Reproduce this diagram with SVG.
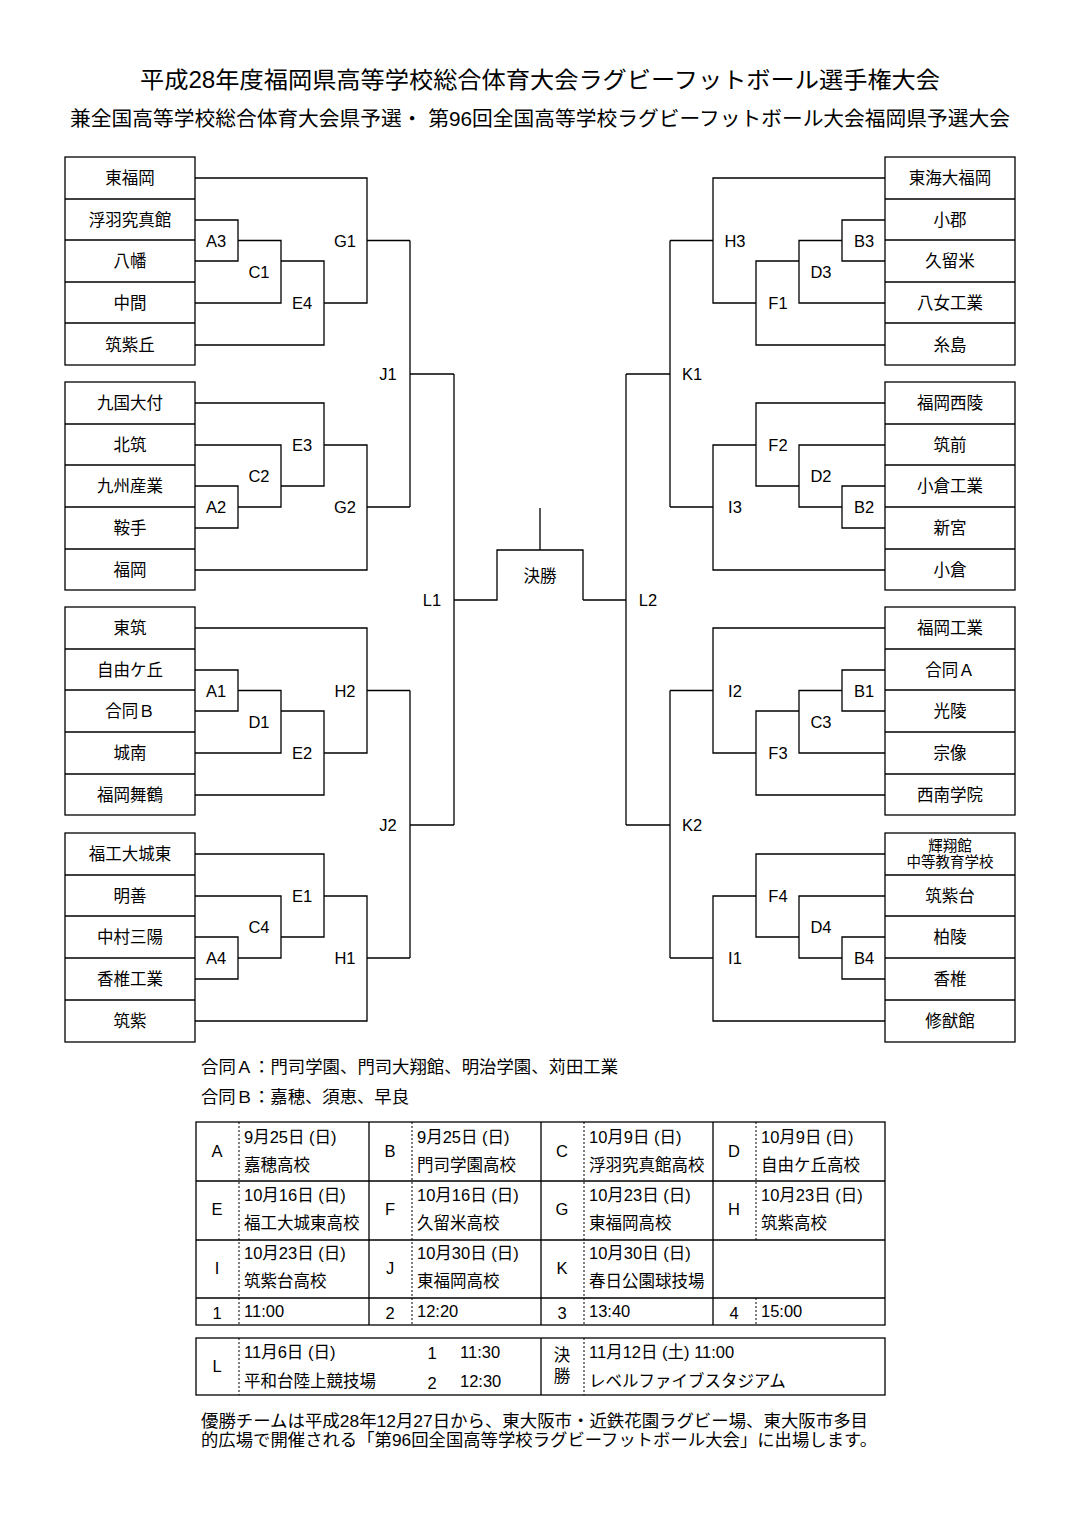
<svg xmlns="http://www.w3.org/2000/svg" width="1080" height="1528" viewBox="0 0 1080 1528">
<style>
text{font-family:"Liberation Sans","Noto Sans CJK JP",sans-serif;fill:#000;font-size:16.5px}
.c{text-anchor:middle;dominant-baseline:central}
.l{dominant-baseline:central}
.ln{fill:none;stroke:#000;stroke-width:1.3}
.bx{fill:#fff;stroke:#000;stroke-width:1.3}
.ds{stroke:#000;stroke-width:1;stroke-dasharray:2 2}
</style>
<rect width="1080" height="1528" fill="#fff"/>
<g id="title">
<text x="140" y="80" class="l" style="font-size:23px" textLength="800" lengthAdjust="spacingAndGlyphs">平成28年度福岡県高等学校総合体育大会ラグビーフットボール選手権大会</text>
<text x="70" y="118" class="l" style="font-size:20.5px" textLength="940" lengthAdjust="spacingAndGlyphs">兼全国高等学校総合体育大会県予選・ 第96回全国高等学校ラグビーフットボール大会福岡県予選大会</text>
</g>
<g id="connectors">
<g id="left-lines" class="ln">
<path d="M195,220H238V261H195M238,240.5H281V303H195M281,261H324V345H195M195,178H367V303H324M367,240.5H410"/>
<path d="M195,486H238V528H195M195,445H281V507H238M195,403H324V486H281M195,570H367V445H324M367,507H410"/>
<path d="M195,670H238V711H195M238,690.5H281V753H195M281,711H324V795H195M195,628H367V753H324M367,690.5H410"/>
<path d="M195,937H238V979H195M195,896H281V958H238M195,854H324V937H281M195,1021H367V896H324M367,958H410"/>
<path d="M410,240.5V507M410,374H454M410,690.5V958M410,825H454M454,374V825M454,600H497V550H540V508M540,550H583V600"/>
</g>
<g id="right-lines" class="ln" transform="matrix(-1 0 0 1 1080 0)">
<path d="M195,220H238V261H195M238,240.5H281V303H195M281,261H324V345H195M195,178H367V303H324M367,240.5H410"/>
<path d="M195,486H238V528H195M195,445H281V507H238M195,403H324V486H281M195,570H367V445H324M367,507H410"/>
<path d="M195,670H238V711H195M238,690.5H281V753H195M281,711H324V795H195M195,628H367V753H324M367,690.5H410"/>
<path d="M195,937H238V979H195M195,896H281V958H238M195,854H324V937H281M195,1021H367V896H324M367,958H410"/>
<path d="M410,240.5V507M410,374H454M410,690.5V958M410,825H454M454,374V825M454,600H497"/>
</g>
</g>
<g id="final"><text class="c" x="540" y="576">決勝</text></g>
<g id="left-teams">
<rect class="bx" x="65" y="157" width="130" height="208"/><path class="ln" d="M65,199H195M65,240H195M65,282H195M65,323H195"/>
<text class="c" x="130" y="178">東福岡</text><text class="c" x="130" y="220">浮羽究真館</text><text class="c" x="130" y="261">八幡</text><text class="c" x="130" y="303">中間</text><text class="c" x="130" y="345">筑紫丘</text>
<rect class="bx" x="65" y="382" width="130" height="208"/><path class="ln" d="M65,424H195M65,465H195M65,507H195M65,549H195"/>
<text class="c" x="130" y="403">九国大付</text><text class="c" x="130" y="445">北筑</text><text class="c" x="130" y="486">九州産業</text><text class="c" x="130" y="528">鞍手</text><text class="c" x="130" y="570">福岡</text>
<rect class="bx" x="65" y="607" width="130" height="208"/><path class="ln" d="M65,649H195M65,690H195M65,732H195M65,774H195"/>
<text class="c" x="130" y="628">東筑</text><text class="c" x="130" y="670">自由ケ丘</text><text class="c" x="130" y="711">合同Ｂ</text><text class="c" x="130" y="753">城南</text><text class="c" x="130" y="795">福岡舞鶴</text>
<rect class="bx" x="65" y="833" width="130" height="209"/><path class="ln" d="M65,875H195M65,916H195M65,958H195M65,1000H195"/>
<text class="c" x="130" y="854">福工大城東</text><text class="c" x="130" y="896">明善</text><text class="c" x="130" y="937">中村三陽</text><text class="c" x="130" y="979">香椎工業</text><text class="c" x="130" y="1021">筑紫</text>
</g>
<g id="right-teams">
<rect class="bx" x="885" y="157" width="130" height="208"/><path class="ln" d="M885,199H1015M885,240H1015M885,282H1015M885,323H1015"/>
<text class="c" x="950" y="178">東海大福岡</text><text class="c" x="950" y="220">小郡</text><text class="c" x="950" y="261">久留米</text><text class="c" x="950" y="303">八女工業</text><text class="c" x="950" y="345">糸島</text>
<rect class="bx" x="885" y="382" width="130" height="208"/><path class="ln" d="M885,424H1015M885,465H1015M885,507H1015M885,549H1015"/>
<text class="c" x="950" y="403">福岡西陵</text><text class="c" x="950" y="445">筑前</text><text class="c" x="950" y="486">小倉工業</text><text class="c" x="950" y="528">新宮</text><text class="c" x="950" y="570">小倉</text>
<rect class="bx" x="885" y="607" width="130" height="208"/><path class="ln" d="M885,649H1015M885,690H1015M885,732H1015M885,774H1015"/>
<text class="c" x="950" y="628">福岡工業</text><text class="c" x="950" y="670">合同Ａ</text><text class="c" x="950" y="711">光陵</text><text class="c" x="950" y="753">宗像</text><text class="c" x="950" y="795">西南学院</text>
<rect class="bx" x="885" y="833" width="130" height="209"/><path class="ln" d="M885,875H1015M885,916H1015M885,958H1015M885,1000H1015"/>
<text class="c" x="950" y="846" style="font-size:14.5px">輝翔館</text><text class="c" x="950" y="862" style="font-size:14.5px">中等教育学校</text><text class="c" x="950" y="896">筑紫台</text><text class="c" x="950" y="937">柏陵</text><text class="c" x="950" y="979">香椎</text><text class="c" x="950" y="1021">修猷館</text>
</g>
<g id="match-labels">
<text class="c" x="216" y="241">A3</text><text class="c" x="259" y="272">C1</text><text class="c" x="302" y="303">E4</text><text class="c" x="345" y="241">G1</text>
<text class="c" x="216" y="507">A2</text><text class="c" x="259" y="476">C2</text><text class="c" x="302" y="445">E3</text><text class="c" x="345" y="507">G2</text>
<text class="c" x="216" y="691">A1</text><text class="c" x="259" y="722">D1</text><text class="c" x="302" y="753">E2</text><text class="c" x="345" y="691">H2</text>
<text class="c" x="216" y="958">A4</text><text class="c" x="259" y="927">C4</text><text class="c" x="302" y="896">E1</text><text class="c" x="345" y="958">H1</text>
<text class="c" x="388" y="374">J1</text><text class="c" x="388" y="825">J2</text><text class="c" x="432" y="600">L1</text>
<text class="c" x="864" y="241">B3</text><text class="c" x="821" y="272">D3</text><text class="c" x="778" y="303">F1</text><text class="c" x="735" y="241">H3</text>
<text class="c" x="864" y="507">B2</text><text class="c" x="821" y="476">D2</text><text class="c" x="778" y="445">F2</text><text class="c" x="735" y="507">I3</text>
<text class="c" x="864" y="691">B1</text><text class="c" x="821" y="722">C3</text><text class="c" x="778" y="753">F3</text><text class="c" x="735" y="691">I2</text>
<text class="c" x="864" y="958">B4</text><text class="c" x="821" y="927">D4</text><text class="c" x="778" y="896">F4</text><text class="c" x="735" y="958">I1</text>
<text class="c" x="692" y="374">K1</text><text class="c" x="692" y="825">K2</text><text class="c" x="648" y="600">L2</text>
</g>
<g id="notes">
<text class="l" x="201" y="1067" textLength="417" lengthAdjust="spacingAndGlyphs">合同Ａ：門司学園、門司大翔館、明治学園、苅田工業</text>
<text class="l" x="201" y="1097" textLength="208" lengthAdjust="spacingAndGlyphs">合同Ｂ：嘉穂、須恵、早良</text>
</g>
<g id="schedule">
<rect class="bx" x="196" y="1122" width="689" height="203" style="fill:none"/>
<path class="ln" d="M196,1181H885M196,1240H885M196,1298H885M369,1122V1325M541,1122V1325M713,1122V1325"/>
<path class="ds" d="M239,1122V1325M412,1122V1325M584,1122V1325M756,1122V1240M756,1298V1325"/>
<text class="c" x="217" y="1151">A</text><text class="l" x="244" y="1137">9月25日 (日)</text><text class="l" x="244" y="1165">嘉穂高校</text>
<text class="c" x="390" y="1151">B</text><text class="l" x="417" y="1137">9月25日 (日)</text><text class="l" x="417" y="1165">門司学園高校</text>
<text class="c" x="562" y="1151">C</text><text class="l" x="589" y="1137">10月9日 (日)</text><text class="l" x="589" y="1165">浮羽究真館高校</text>
<text class="c" x="734" y="1151">D</text><text class="l" x="761" y="1137">10月9日 (日)</text><text class="l" x="761" y="1165">自由ケ丘高校</text>
<text class="c" x="217" y="1209">E</text><text class="l" x="244" y="1195">10月16日 (日)</text><text class="l" x="244" y="1223">福工大城東高校</text>
<text class="c" x="390" y="1209">F</text><text class="l" x="417" y="1195">10月16日 (日)</text><text class="l" x="417" y="1223">久留米高校</text>
<text class="c" x="562" y="1209">G</text><text class="l" x="589" y="1195">10月23日 (日)</text><text class="l" x="589" y="1223">東福岡高校</text>
<text class="c" x="734" y="1209">H</text><text class="l" x="761" y="1195">10月23日 (日)</text><text class="l" x="761" y="1223">筑紫高校</text>
<text class="c" x="217" y="1268">I</text><text class="l" x="244" y="1253">10月23日 (日)</text><text class="l" x="244" y="1281">筑紫台高校</text>
<text class="c" x="390" y="1268">J</text><text class="l" x="417" y="1253">10月30日 (日)</text><text class="l" x="417" y="1281">東福岡高校</text>
<text class="c" x="562" y="1268">K</text><text class="l" x="589" y="1253">10月30日 (日)</text><text class="l" x="589" y="1281">春日公園球技場</text>
<text class="c" x="217" y="1313">1</text><text class="l" x="244" y="1311">11:00</text>
<text class="c" x="390" y="1313">2</text><text class="l" x="417" y="1311">12:20</text>
<text class="c" x="562" y="1313">3</text><text class="l" x="589" y="1311">13:40</text>
<text class="c" x="734" y="1313">4</text><text class="l" x="761" y="1311">15:00</text>
<rect class="bx" x="196" y="1338" width="689" height="57" style="fill:none"/>
<path class="ln" d="M541,1338V1395"/>
<path class="ds" d="M239,1338V1395M584,1338V1395"/>
<text class="c" x="217" y="1366">L</text><text class="l" x="244" y="1352">11月6日 (日)</text><text class="l" x="244" y="1381">平和台陸上競技場</text>
<text class="c" x="432" y="1353">1</text><text class="l" x="460" y="1352">11:30</text>
<text class="c" x="432" y="1383">2</text><text class="l" x="460" y="1381">12:30</text>
<text class="c" x="562" y="1355">決</text><text class="c" x="562" y="1376">勝</text>
<text class="l" x="589" y="1352">11月12日 (土) 11:00</text><text class="l" x="589" y="1381">レベルファイブスタジアム</text>
</g>
<g id="footer">
<text class="l" x="201" y="1421" textLength="667" lengthAdjust="spacingAndGlyphs">優勝チームは平成28年12月27日から、東大阪市・近鉄花園ラグビー場、東大阪市多目</text>
<text class="l" x="201" y="1440" textLength="676" lengthAdjust="spacingAndGlyphs">的広場で開催される「第96回全国高等学校ラグビーフットボール大会」に出場します。</text>
</g>
</svg>
